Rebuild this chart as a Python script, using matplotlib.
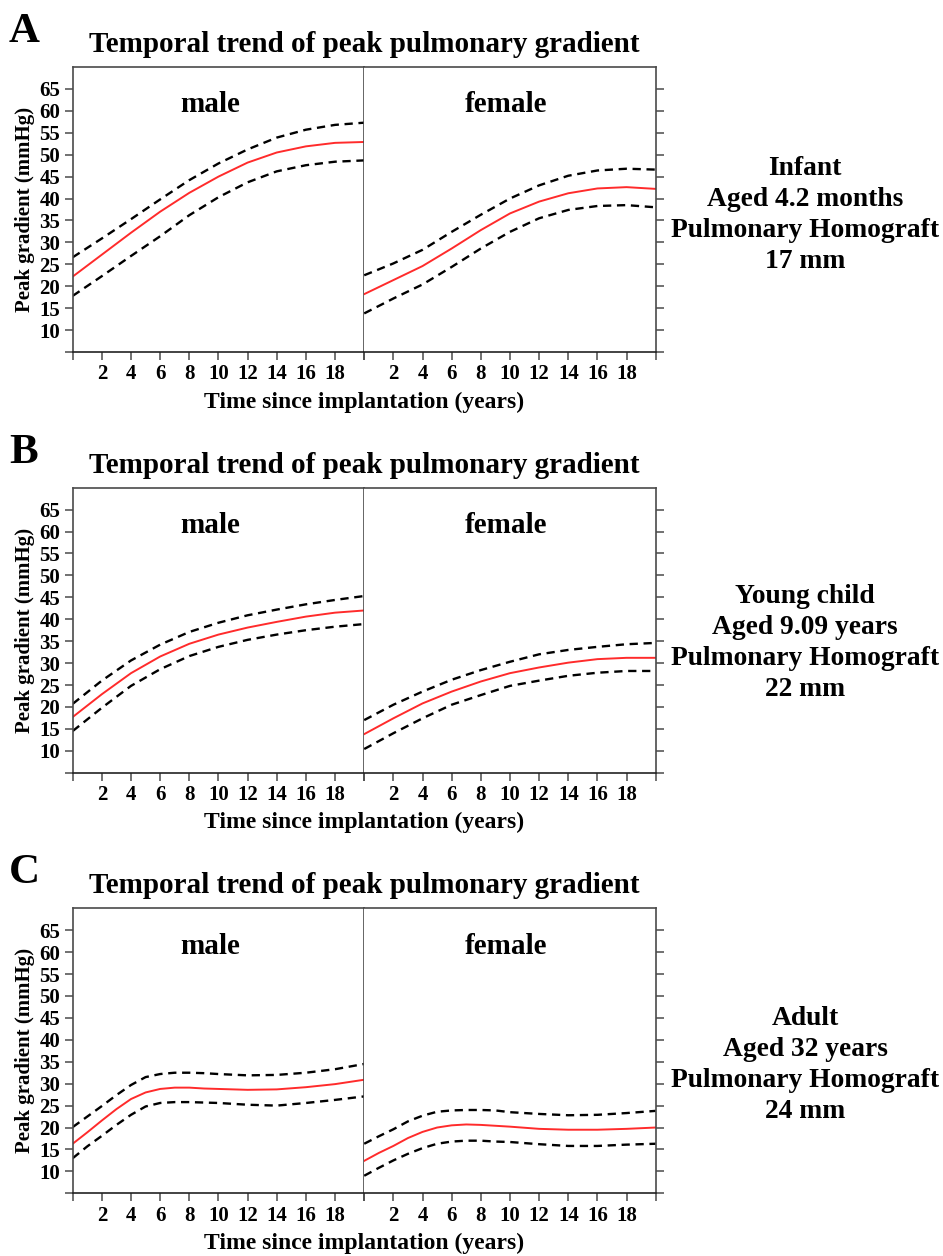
import matplotlib
matplotlib.use("Agg")
import matplotlib.pyplot as plt

plt.rcParams["font.family"] = ["Liberation Serif", "DejaVu Serif"]
plt.rcParams["font.weight"] = "bold"

years = [0, 2, 4, 6, 8, 10, 12, 14, 16, 18, 20]
years_adult = [0, 1, 2, 3, 4, 5, 6, 7, 8, 9, 10, 12, 14, 16, 18, 20]
y_ticks = [5, 10, 15, 20, 25, 30, 35, 40, 45, 50, 55, 60, 65]
y_tick_labels = [""] + [str(v) for v in y_ticks[1:]]
x_tick_labels = [""] + [str(v) for v in years[1:-1]] + [""]

# infant, 4.2 months, 17 mm homograft
infant_male_mean = [22.2, 27.2, 32.2, 37.0, 41.3, 45.0, 48.2, 50.5, 51.9, 52.7, 52.9]
infant_male_upper = [26.6, 30.9, 35.3, 39.8, 44.2, 48.0, 51.2, 53.9, 55.7, 56.8, 57.3]
infant_male_lower = [17.8, 22.3, 26.9, 31.4, 36.2, 40.3, 43.7, 46.2, 47.6, 48.4, 48.7]
infant_female_mean = [18.2, 21.4, 24.6, 28.6, 32.8, 36.6, 39.3, 41.2, 42.3, 42.6, 42.2]
infant_female_upper = [22.5, 25.2, 28.3, 32.4, 36.3, 40.0, 43.0, 45.2, 46.4, 46.8, 46.6]
infant_female_lower = [13.8, 17.2, 20.4, 24.4, 28.6, 32.4, 35.5, 37.4, 38.3, 38.5, 38.0]

# young child, 9.09 years, 22 mm homograft
child_male_mean = [17.7, 22.9, 27.7, 31.5, 34.4, 36.5, 38.1, 39.4, 40.6, 41.5, 42.0]
child_male_upper = [20.7, 26.0, 30.6, 34.2, 37.1, 39.2, 40.9, 42.2, 43.4, 44.4, 45.3]
child_male_lower = [14.5, 19.8, 24.8, 28.6, 31.6, 33.7, 35.3, 36.5, 37.5, 38.3, 38.9]
child_female_mean = [13.8, 17.4, 20.8, 23.5, 25.8, 27.7, 29.0, 30.1, 30.9, 31.2, 31.2]
child_female_upper = [17.0, 20.5, 23.5, 26.2, 28.4, 30.3, 32.0, 33.0, 33.7, 34.3, 34.6]
child_female_lower = [10.4, 14.0, 17.4, 20.5, 22.7, 24.8, 26.0, 27.1, 27.8, 28.2, 28.2]

# adult, 32 years, 24 mm homograft (yearly over the first decade)
adult_male_mean = [16.3, 18.9, 21.6, 24.2, 26.5, 28.0, 28.8, 29.1, 29.1, 28.9,
                   28.8, 28.6, 28.7, 29.2, 29.9, 30.9]
adult_male_upper = [20.1, 22.5, 24.9, 27.4, 29.7, 31.5, 32.2, 32.5, 32.5, 32.4,
                    32.2, 31.9, 32.0, 32.5, 33.3, 34.5]
adult_male_lower = [13.0, 15.7, 18.1, 20.6, 22.9, 24.8, 25.6, 25.8, 25.8, 25.7,
                    25.6, 25.2, 25.0, 25.6, 26.3, 27.1]
adult_female_mean = [12.4, 14.2, 15.8, 17.6, 19.0, 20.0, 20.5, 20.7, 20.6, 20.4,
                     20.2, 19.7, 19.5, 19.5, 19.7, 20.0]
adult_female_upper = [16.3, 18.0, 19.6, 21.4, 22.7, 23.6, 23.9, 24.0, 24.0, 23.9,
                      23.5, 23.1, 22.8, 22.9, 23.3, 23.8]
adult_female_lower = [9.0, 10.8, 12.5, 14.0, 15.3, 16.3, 16.8, 17.0, 17.0, 16.8,
                      16.7, 16.2, 15.8, 15.8, 16.1, 16.3]

W, H = 943, 1256
SPINE = "#4a4a4a"
DASH = (0, (3.5, 2.4))


def style_axis(ax, side):
    ax.set_xlim(0, 20)
    ax.set_ylim(5, 70)
    ax.set_xticks(years)
    ax.set_xticklabels(x_tick_labels)
    ax.set_yticks(y_ticks)
    for sp in ax.spines.values():
        sp.set_color(SPINE)
        sp.set_linewidth(1.2)
    ax.spines["bottom"].set_color("#222222")
    ax.tick_params(axis="both", direction="out", length=6, width=1.1,
                   color=SPINE, labelsize=15, pad=3)
    if side == "left":
        ax.set_yticklabels(y_tick_labels)
        ax.yaxis.set_ticks_position("left")
    else:
        ax.spines["left"].set_visible(False)
        ax.yaxis.set_ticks_position("right")
        ax.set_yticklabels([])
    for lab in ax.get_xticklabels() + ax.get_yticklabels():
        lab.set_fontweight("bold")


def draw_curves(ax, x, mean, upper, lower):
    ax.plot(x, upper, color="black", lw=1.7, linestyle=DASH)
    ax.plot(x, lower, color="black", lw=1.7, linestyle=DASH)
    ax.plot(x, mean, color="#ff2b2b", lw=1.4)


def draw_panel(fig, top_px, letter, x, male, female, note, note_y):
    left_px = 72.7
    half_w = 291.5
    h_px = 285
    bottom = 1 - (top_px + h_px) / H
    ax_m = fig.add_axes([left_px / W, bottom, half_w / W, h_px / H])
    ax_f = fig.add_axes([(left_px + half_w) / W, bottom, half_w / W, h_px / H])
    style_axis(ax_m, "left")
    style_axis(ax_f, "right")
    draw_curves(ax_m, x, *male)
    draw_curves(ax_f, x, *female)

    ax_m.text(0.47, 0.867, "male", transform=ax_m.transAxes, ha="center",
              va="center", fontsize=21, fontweight="bold")
    ax_f.text(0.487, 0.867, "female", transform=ax_f.transAxes, ha="center",
              va="center", fontsize=21, fontweight="bold")
    ax_m.set_ylabel("Peak gradient (mmHg)", fontsize=15, fontweight="bold",
                    labelpad=3)

    fig.text((left_px + half_w) / W, 1 - (top_px + h_px + 50) / H,
             "Time since implantation (years)", ha="center", va="center",
             fontsize=17, fontweight="bold")
    fig.text((left_px + half_w) / W, 1 - (top_px - 15) / H,
             "Temporal trend of peak pulmonary gradient", ha="center",
             va="baseline", fontsize=21, fontweight="bold")
    fig.text(9 / W, 1 - (top_px - 25) / H, letter, ha="left", va="baseline",
             fontsize=31, fontweight="bold")
    fig.text(805 / W, 1 - note_y / H, note, ha="center", va="center",
             fontsize=19.8, fontweight="bold", linespacing=1.32)


fig = plt.figure(figsize=(W / 100, H / 100), dpi=100)
draw_panel(fig, 67, "A", years,
           (infant_male_mean, infant_male_upper, infant_male_lower),
           (infant_female_mean, infant_female_upper, infant_female_lower),
           "Infant\nAged 4.2 months\nPulmonary Homograft\n17 mm", 215)
draw_panel(fig, 487.7, "B", years,
           (child_male_mean, child_male_upper, child_male_lower),
           (child_female_mean, child_female_upper, child_female_lower),
           "Young child\nAged 9.09 years\nPulmonary Homograft\n22 mm", 643)
draw_panel(fig, 908.3, "C", years_adult,
           (adult_male_mean, adult_male_upper, adult_male_lower),
           (adult_female_mean, adult_female_upper, adult_female_lower),
           "Adult\nAged 32 years\nPulmonary Homograft\n24 mm", 1065)

fig.savefig("out.png", dpi=100)
